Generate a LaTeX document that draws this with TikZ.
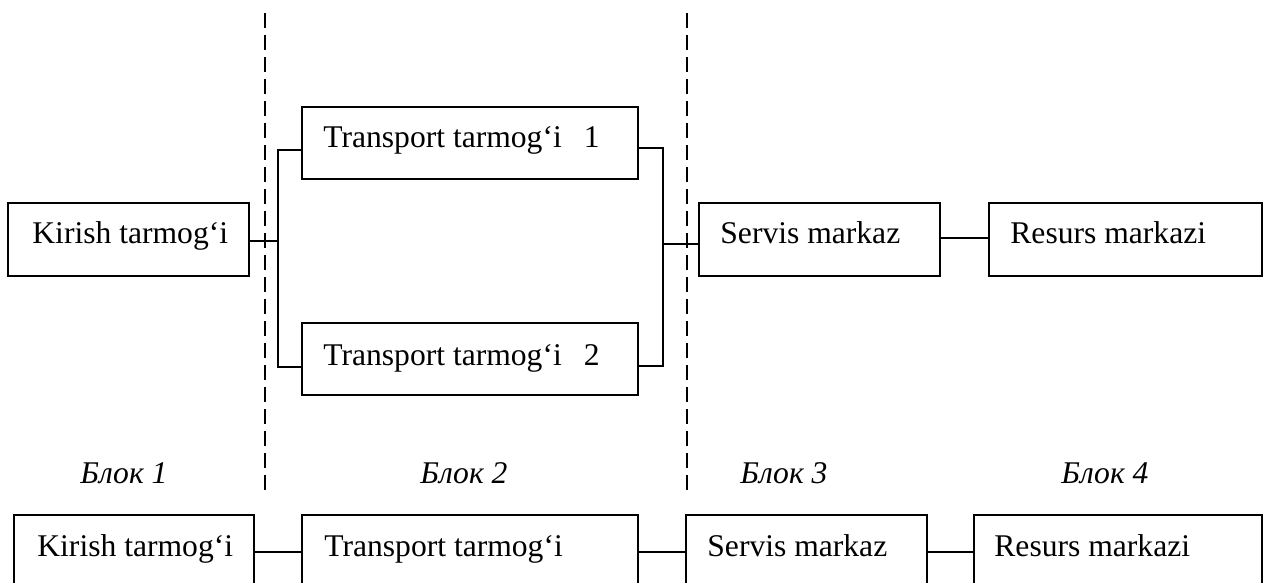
\documentclass[tikz,border=0pt]{standalone}
\usepackage{fontspec}
\setmainfont{Liberation Serif}
\begin{document}
\begin{tikzpicture}[x=0.5pt,y=-0.5pt,
  box/.style={draw, line width=1pt, inner sep=0pt, minimum height=36.5pt},
  lbl/.style={anchor=base west, inner sep=0pt, font=\fontsize{15.8}{19}\selectfont},
  blk/.style={anchor=base west, inner sep=0pt, font=\fontsize{15.8}{19}\selectfont\itshape},
  wire/.style={line width=1pt},
  divider/.style={line width=1pt, dash pattern=on 7.5pt off 3.5pt}]
\useasboundingbox (0,0) rectangle (1265,583);
\clip (0,0) rectangle (1265,583);

% dividers
\coordinate (d1t) at (264.5,13);  \coordinate (d1b) at (264.5,490);
\coordinate (d2t) at (686.5,13);  \coordinate (d2b) at (686.5,490);
\draw[divider] (d1t) -- (d1b);
\draw[divider] (d2t) -- (d2b);

% upper scheme
\node[box, minimum width=120.5pt] (k1) at (128.5,239.5) {};
\node[lbl] (k1t) at (32,243) {Kirish tarmog‘i};
\node[box, minimum width=168pt, minimum height=36pt] (t1) at (470,143) {};
\node[lbl] (t1t) at (323,148) {Transport tarmog‘i\hspace{11pt}1};
\node[box, minimum width=168pt, minimum height=36pt] (t2) at (470,359) {};
\node[lbl] (t2t) at (323,365) {Transport tarmog‘i\hspace{11pt}2};
\node[box, minimum width=120.5pt] (s1) at (819.5,239.5) {};
\node[lbl] (s1t) at (720,243) {Servis markaz};
\node[box, minimum width=136.5pt] (r1) at (1125.5,239.5) {};
\node[lbl] (r1t) at (1010,243) {Resurs markazi};

\coordinate (busL) at (278,241);
\coordinate (busR) at (663,244);
\draw[wire] ([yshift=-0.75pt]k1.east) -- (busL);
\draw[wire] ([yshift=-3.5pt]t1.west) -| (busL) |- ([yshift=-4pt]t2.west);
\draw[wire] ([yshift=-2.5pt]t1.east) -| (busR) |- ([yshift=-3.5pt]t2.east);
\draw[wire] (busR) -- ([yshift=-2.25pt]s1.west);
\draw[wire] ([yshift=0.75pt]s1.east) -- ([yshift=0.75pt]r1.west);

% block labels
\node[blk] (b1) at (80,483) {Блок 1};
\node[blk] (b2) at (420,483) {Блок 2};
\node[blk] (b3) at (740,483) {Блок 3};
\node[blk] (b4) at (1061,483) {Блок 4};

% lower scheme
\node[box, minimum width=120pt] (k2) at (134,551.5) {};
\node[lbl] (k2t) at (37,556) {Kirish tarmog‘i};
\node[box, minimum width=168pt] (t3) at (470,551.5) {};
\node[lbl] (t3t) at (324,556) {Transport tarmog‘i};
\node[box, minimum width=120.5pt] (s2) at (806.5,551.5) {};
\node[lbl] (s2t) at (707,556) {Servis markaz};
\node[box, minimum width=144pt] (r2) at (1118,551.5) {};
\node[lbl] (r2t) at (994,556) {Resurs markazi};
\draw[wire] (k2.east) -- (t3.west);
\draw[wire] (t3.east) -- (s2.west);
\draw[wire] (s2.east) -- (r2.west);
\end{tikzpicture}
\end{document}
